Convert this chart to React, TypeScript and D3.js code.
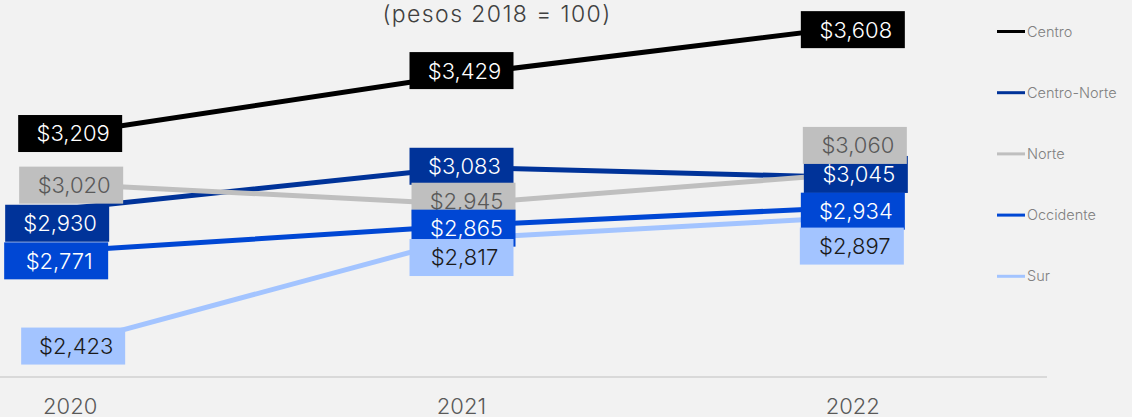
import React from 'react';
import * as d3 from 'd3';

const years = ['2020', '2021', '2022'];
const seriesNames = ['Centro', 'Centro-Norte', 'Norte', 'Occidente', 'Sur'];
const centro = [3209, 3429, 3608];
const centroNorte = [2930, 3083, 3045];
const norte = [3020, 2945, 3060];
const occidente = [2771, 2865, 2934];
const sur = [2423, 2817, 2897];
const titleText = '(pesos 2018 = 100)';

// styling (not data)
const colors = ['#000000', '#003399', '#BFBFBF', '#0047D4', '#A3C4FF'];
const labelTextColors = ['#FFFFFF', '#FFFFFF', '#595959', '#FFFFFF', '#1A1A1A'];
// label nudges [dx, dy] in px, per series per year (layout only)
const labelNudges: [number, number][][] = [
  [[0, 0], [0, -4], [0, 3]],
  [[-13, 15], [0, -1], [3, -3]],
  [[1, 1], [2, -3], [2, -28]],
  [[-14, 10], [2, 2.5], [0, 4]],
  [[3, 2], [0, 19], [-1, 29]],
];

const W = 1132;
const H = 417;

export default function App() {
  const allSeries = [centro, centroNorte, norte, occidente, sur];
  const x = d3.scaleBand<string>().domain(years).range([-125.5, 1048.5]).padding(0);
  const cx = (yr: string) => (x(yr) as number) + x.bandwidth() / 2;
  const y = d3.scaleLinear().domain([2300, 3700]).range([377, 2]);
  const line = d3
    .line<number>()
    .x((_, i) => cx(years[i]))
    .y((d) => y(d));
  const fmt = (v: number) => '$' + d3.format(',')(v);
  const boxW = 104;
  const boxH = 37;
  const font = '"Inter Light", Inter, "Noto Sans", sans-serif';

  return (
    <svg
      width={W}
      height={H}
      style={{ position: 'absolute', left: 0, top: 0, display: 'block' }}
      fontFamily={font}
      fontWeight={300}
    >
      <rect x={0} y={0} width={W} height={H} fill="#F2F2F2" />
      <text x={497} y={21.5} textAnchor="middle" fontSize={23} letterSpacing={1.4} fill="#404040">
        {titleText}
      </text>
      {/* x axis */}
      <line x1={0} x2={1047} y1={377} y2={377} stroke="#D9D9D9" strokeWidth={2} />
      {years.map((yr) => (
        <text key={yr} x={cx(yr)} y={414} textAnchor="middle" fontSize={22} fill="#595959">
          {yr}
        </text>
      ))}
      {/* lines */}
      {allSeries.map((s, si) => (
        <path
          key={seriesNames[si]}
          d={line(s) as string}
          fill="none"
          stroke={colors[si]}
          strokeWidth={5}
          strokeLinejoin="round"
        />
      ))}
      {/* labels */}
      {allSeries.map((s, si) => (
        <g key={'lab' + si}>
          {s.map((v, i) => {
            const [dx, dy] = labelNudges[si][i];
            const px = cx(years[i]) + dx;
            const py = y(v) + dy;
            return (
              <g key={i}>
                <rect x={px - boxW / 2} y={py - boxH / 2} width={boxW} height={boxH} fill={colors[si]} />
                <text
                  x={px + 3}
                  y={py}
                  dy="0.36em"
                  textAnchor="middle"
                  fontSize={22}
                  fill={labelTextColors[si]}
                >
                  {fmt(v)}
                </text>
              </g>
            );
          })}
        </g>
      ))}
      {/* legend */}
      {seriesNames.map((n, i) => {
        const ly = 31.5 + i * 61.2;
        return (
          <g key={'lg' + n}>
            <line x1={997} x2={1025} y1={ly} y2={ly} stroke={colors[i]} strokeWidth={3} />
            <text x={1027} y={ly} dy="0.35em" fontSize={14.5} fill="#808080">
              {n}
            </text>
          </g>
        );
      })}
    </svg>
  );
}
